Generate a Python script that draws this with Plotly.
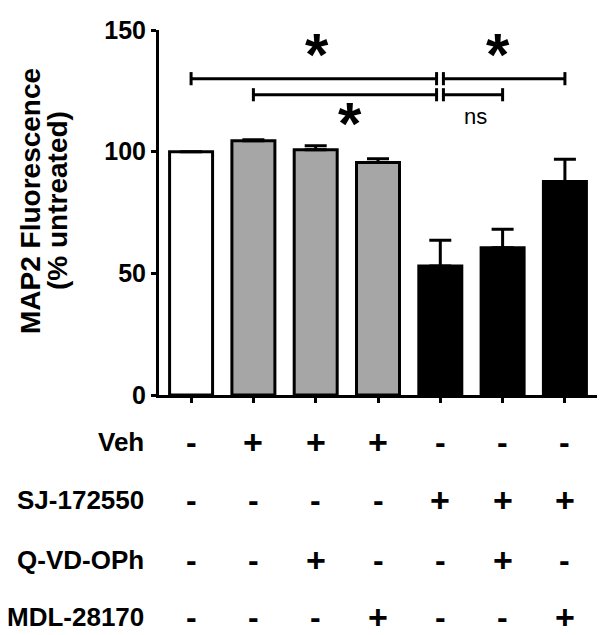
import plotly.graph_objects as go

# ---- data ----
groups = ["G1", "G2", "G3", "G4", "G5", "G6", "G7"]
values = [100.0, 104.5, 100.8, 95.5, 53.0, 60.5, 87.7]
errors = [0.0, 0.4, 1.6, 1.6, 10.6, 7.6, 9.2]
bar_colors = ["#ffffff", "#a6a6a6", "#a6a6a6", "#a6a6a6", "#000000", "#000000", "#000000"]
y_ticks = [0, 50, 100, 150]

row_labels = ["Veh", "SJ-172550", "Q-VD-OPh", "MDL-28170"]
veh = ["-", "+", "+", "+", "-", "-", "-"]
sj = ["-", "-", "-", "-", "+", "+", "+"]
qvd = ["-", "-", "+", "-", "-", "+", "-"]
mdl = ["-", "-", "-", "+", "-", "-", "+"]
table_rows = [veh, sj, qvd, mdl]

# significance brackets: (x_start, x_end, y)
brackets = [(0.0, 3.94, 130.0), (1.0, 3.94, 123.4), (4.05, 6.0, 130.0), (4.05, 5.0, 123.4)]
# significance labels: (x, y, text)
sig_labels = [(2.02, 143.0, "*"), (2.55, 114.5, "*"), (4.93, 143.0, "*"), (4.56, 114.5, "ns")]

# ---- layout geometry ----
W, H = 604, 635
L, R, T, B = 159, 7, 30, 240
pw, ph = W - L - R, H - T - B

def px_x(px):
    return (px - L) / pw

def px_y(py):
    return (H - B - py) / ph

FONT = "Arial, Liberation Sans, sans-serif"

fig = go.Figure()
fig.add_trace(go.Bar(
    x=list(range(len(groups))), y=values, width=0.69,
    marker=dict(color=bar_colors, line=dict(color="black", width=3)),
    error_y=dict(type="data", symmetric=False, array=errors,
                 arrayminus=[0] * len(errors), color="black", thickness=3, width=11),
    showlegend=False,
))

shapes = []
tick_half = 2.7
for x0, x1, y in brackets:
    shapes.append(dict(type="line", xref="x", yref="y", x0=x0, x1=x1, y0=y, y1=y,
                       line=dict(color="black", width=3)))
    for xe in (x0, x1):
        shapes.append(dict(type="line", xref="x", yref="y", x0=xe, x1=xe,
                           y0=y - tick_half, y1=y + tick_half,
                           line=dict(color="black", width=3)))

annotations = []
for x, y, t in sig_labels:
    if t == "*":
        annotations.append(dict(x=x, y=y, xref="x", yref="y", text="<b>*</b>", showarrow=False,
                                font=dict(family=FONT, size=60, color="black"),
                                xanchor="center", yanchor="middle", yshift=-7))
    else:
        annotations.append(dict(x=x, y=y, xref="x", yref="y", text=t, showarrow=False,
                                font=dict(family=FONT, size=22, color="black"),
                                xanchor="center", yanchor="middle"))

# axis title as two rotated lines
annotations.append(dict(x=px_x(30), y=px_y(201), xref="paper", yref="paper",
                        text="<b>MAP2 Fluorescence</b>", textangle=-90, showarrow=False,
                        font=dict(family=FONT, size=28, color="black"),
                        xanchor="center", yanchor="middle"))
annotations.append(dict(x=px_x(57), y=px_y(201), xref="paper", yref="paper",
                        text="<b>(% untreated)</b>", textangle=-90, showarrow=False,
                        font=dict(family=FONT, size=28, color="black"),
                        xanchor="center", yanchor="middle"))

row_y = [441.7, 500.5, 560.0, 617.0]
for lab, ry, row in zip(row_labels, row_y, table_rows):
    annotations.append(dict(x=px_x(146), y=px_y(ry), xref="paper", yref="paper",
                            text="<b>" + lab + "</b>", showarrow=False,
                            font=dict(family=FONT, size=26, color="black"),
                            xanchor="right", yanchor="middle"))
    for i, s in enumerate(row):
        size = 34 if s == "+" else 32
        annotations.append(dict(x=i, y=px_y(ry), xref="x", yref="paper",
                                text="<b>" + s + "</b>", showarrow=False,
                                font=dict(family=FONT, size=size, color="black"),
                                xanchor="center", yanchor="middle"))

fig.update_layout(
    width=W, height=H,
    margin=dict(l=L, r=R, t=T, b=B, pad=0),
    paper_bgcolor="white", plot_bgcolor="white",
    shapes=shapes, annotations=annotations,
    xaxis=dict(range=[-0.515, 6.515], showline=True, linewidth=3, linecolor="black",
               ticks="outside", ticklen=5, tickwidth=3, tickcolor="black",
               tickvals=list(range(len(groups))), showticklabels=False,
               showgrid=False, zeroline=False, fixedrange=True),
    yaxis=dict(range=[0, 150], showline=True, linewidth=3, linecolor="black",
               ticks="outside", ticklen=5, tickwidth=3, tickcolor="black",
               tickvals=y_ticks, ticktext=["<b>%d</b>" % v for v in y_ticks],
               tickfont=dict(family=FONT, size=25, color="black"),
               showgrid=False, zeroline=False, fixedrange=True),
    bargap=0.31,
)

fig.write_html("out.html", config={"displayModeBar": False},
               post_script="document.body.style.margin='0';document.body.style.overflow='hidden';")
